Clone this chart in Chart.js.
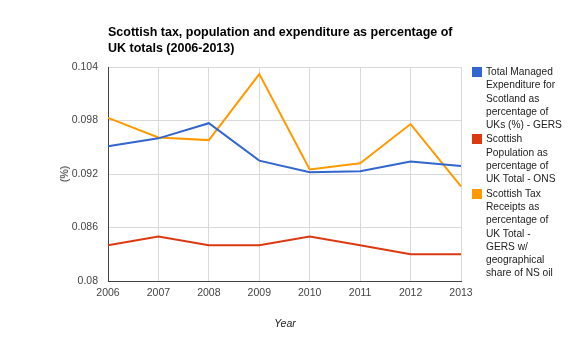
<!DOCTYPE html>
<html><head><meta charset="utf-8">
<script src="https://cdn.jsdelivr.net/npm/chart.js@4"></script>
<style>
html,body{margin:0;padding:0;background:#fff;}
#wrap{position:relative;width:570px;height:348px;font-family:"Liberation Sans",Arial,sans-serif;}
canvas{position:absolute;left:0;top:0;}
#title{position:absolute;left:108px;top:24px;font-weight:bold;font-size:12.5px;line-height:16px;color:#000;white-space:nowrap;}
#ytitle{position:absolute;left:64px;top:174px;transform:translate(-50%,-50%) rotate(-90deg);font-size:10.5px;color:#222;}
#xtitle{position:absolute;left:285px;top:323px;transform:translate(-50%,-50%);font-size:10.5px;font-style:italic;color:#222;}
#legend{position:absolute;left:472px;top:65px;font-size:10.2px;line-height:13.3px;color:#222;}
.item{position:relative;padding-left:14px;margin-bottom:1px;white-space:nowrap;}
.sw{position:absolute;left:0;top:2px;width:10px;height:10px;}
</style></head>
<body>
<div id="wrap">
<canvas id="c" width="570" height="348"></canvas>
<div id="title">Scottish tax, population and expenditure as percentage of<br>UK totals (2006-2013)</div>
<div id="ytitle">(%)</div>
<div id="xtitle">Year</div>
<div id="legend"></div>
</div>
<script>
const years = ["2006","2007","2008","2009","2010","2011","2012","2013"];
const expenditure = [0.0951,0.0960,0.0977,0.0935,0.0922,0.0923,0.0934,0.0929];
const population  = [0.0840,0.0850,0.0840,0.0840,0.0850,0.0840,0.0830,0.0830];
const taxReceipts = [0.0983,0.0961,0.0958,0.1032,0.0925,0.0932,0.0976,0.0906];
const yTicks = [0.08,0.086,0.092,0.098,0.104];
const legendLines = [
  ["Total Managed","Expenditure for","Scotland as","percentage of","UKs (%) - GERS"],
  ["Scottish","Population as","percentage of","UK Total - ONS"],
  ["Scottish Tax","Receipts as","percentage of","UK Total -","GERS w/","geographical","share of NS oil"]
];
const colors = ["#3366cc","#dc3912","#ff9900"];
const seriesData = [expenditure, population, taxReceipts];

const datasets = seriesData.map((d,i)=>({
  label: legendLines[i].join(' '),
  data: d,
  borderColor: colors[i],
  backgroundColor: colors[i],
  borderWidth: 2,
  pointRadius: 0,
  tension: 0,
  fill: false
}));

const lg = document.getElementById('legend');
datasets.forEach((ds,i)=>{
  const it = document.createElement('div'); it.className='item';
  const sw = document.createElement('span'); sw.className='sw'; sw.style.background=ds.borderColor;
  it.appendChild(sw);
  const tx = document.createElement('div'); tx.innerHTML = legendLines[i].join('<br>');
  it.appendChild(tx);
  lg.appendChild(it);
});

new Chart(document.getElementById('c'), {
  type: 'line',
  data: { labels: years, datasets },
  options: {
    responsive: false,
    animation: false,
    layout: { padding: { left: 0, top: 67, right: 109, bottom: 0 } },
    plugins: { legend: { display: false }, title: { display: false }, tooltip: { enabled: false } },
    scales: {
      x: {
        offset: false,
        grid: { color: '#d9d9d9', lineWidth: 1, drawTicks: false },
        border: { color: '#444', width: 1 },
        ticks: { color: '#444', font: { family: 'Liberation Sans', size: 10.5 }, padding: 6, maxRotation: 0, autoSkip: false },
        afterFit: s => { s.height = 67; }
      },
      y: {
        min: 0.08, max: 0.104,
        afterBuildTicks: s => { s.ticks = yTicks.map(v=>({value:v})); },
        grid: { color: '#d9d9d9', lineWidth: 1, drawTicks: false },
        border: { color: '#444', width: 1 },
        ticks: { color: '#444', font: { family: 'Liberation Sans', size: 10.5 }, padding: 10,
          callback: v => String(parseFloat(Number(v).toFixed(3))) },
        afterFit: s => { s.width = 108; }
      }
    }
  }
});
</script>
</body></html>
